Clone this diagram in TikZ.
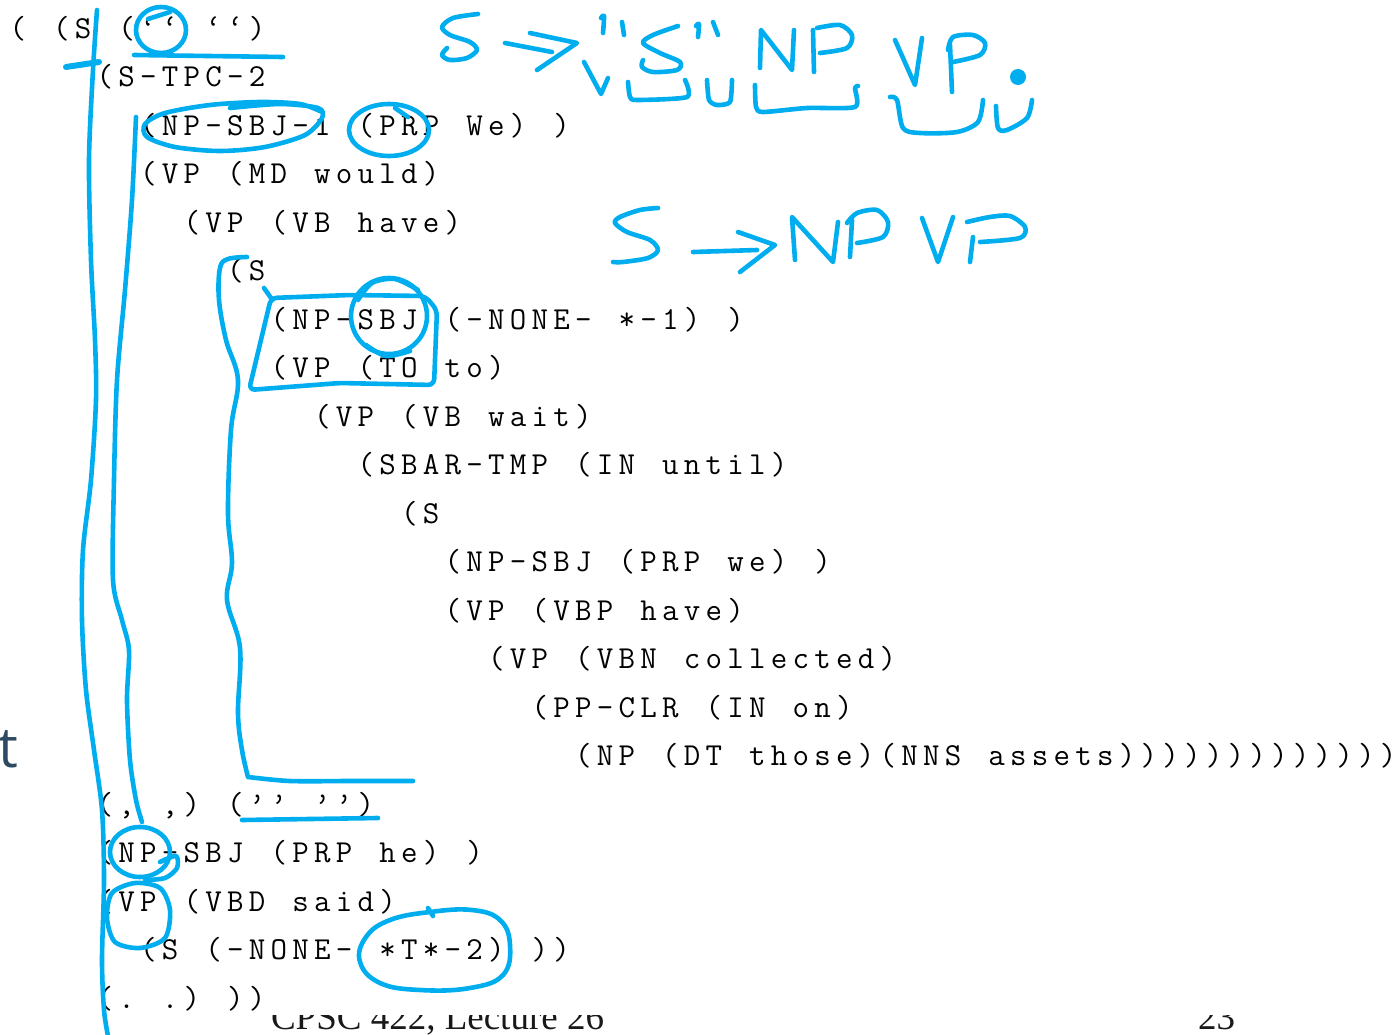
\documentclass[tikz,border=0pt]{standalone}
\usepackage{fontspec}
\newfontfamily\slidefont{Open Sans}
\newfontfamily\footfont{Liberation Serif}
\definecolor{ink}{RGB}{0,174,239}
\definecolor{slate}{RGB}{46,74,98}

% Set a string on a fixed character grid (one cell per character, spaces kept)
\ExplSyntaxOn
\dim_new:N \l_grid_cell_dim
\dim_set:Nn \l_grid_cell_dim {21.75pt}
\NewDocumentCommand\gridtext{m}
  {\str_map_inline:nn {#1} {\makebox[\l_grid_cell_dim][c]{##1}}}
\ExplSyntaxOff

\tikzset{
  treeline/.style={anchor=base west, inner sep=0pt, outer sep=0pt,
    font=\ttfamily\fontsize{32}{38}\selectfont},
  pen/.style={draw=ink, line width=4.6pt, line cap=round, line join=round},
  footer/.style={anchor=base west, inner sep=0pt, outer sep=0pt,
    font=\footfont\fontsize{37}{40}\selectfont, text=black!90},
}

\begin{document}
\begin{tikzpicture}[x=1pt, y=-1pt]
\useasboundingbox (0,0) rectangle (1398,1034);
\clip (0,0) rectangle (1398,1034);

% slide remnants behind the treebank listing
\node[anchor=base west, inner sep=0pt, text=slate,
      font=\slidefont\fontsize{56}{60}\selectfont] (tchar) at (-2,767) {t};
\begin{scope}
  \clip (0,1015) rectangle (1398,1034);
  \node[footer] (foot) at (271,1029) {CPSC 422, Lecture 26};
  \node[footer] (pgnum) at (1198,1029) {23};
\end{scope}

% bracketed parse tree
\node[treeline] (l01) at (7,38)      {\gridtext{( (S (‘‘ ‘‘)}};
\node[treeline] (l02) at (94,86.5)   {\gridtext{(S-TPC-2}};
\node[treeline] (l03) at (137.5,135) {\gridtext{(NP-SBJ-1 (PRP We) )}};
\node[treeline] (l04) at (137.5,183.5) {\gridtext{(VP (MD would)}};
\node[treeline] (l05) at (181,232)   {\gridtext{(VP (VB have)}};
\node[treeline] (l06) at (224.5,280.5) {\gridtext{(S}};
\node[treeline] (l07) at (268,329)   {\gridtext{(NP-SBJ (-NONE- *-1) )}};
\node[treeline] (l08) at (268,377.5) {\gridtext{(VP (TO to)}};
\node[treeline] (l09) at (311.5,426) {\gridtext{(VP (VB wait)}};
\node[treeline] (l10) at (355,474.5) {\gridtext{(SBAR-TMP (IN until)}};
\node[treeline] (l11) at (398.5,523) {\gridtext{(S}};
\node[treeline] (l12) at (442,571.5) {\gridtext{(NP-SBJ (PRP we) )}};
\node[treeline] (l13) at (442,620)   {\gridtext{(VP (VBP have)}};
\node[treeline] (l14) at (485.5,668.5) {\gridtext{(VP (VBN collected)}};
\node[treeline] (l15) at (529,717)   {\gridtext{(PP-CLR (IN on)}};
\node[treeline] (l16) at (572.5,765.5) {\gridtext{(NP (DT those)(NNS assets)))))))))))))}};
\node[treeline] (l17) at (94,814)    {\gridtext{(, ,) (’’ ’’)}};
\node[treeline] (l18) at (94,862.5)  {\gridtext{(NP-SBJ (PRP he) )}};
\node[treeline] (l19) at (94,911)    {\gridtext{(VP (VBD said)}};
\node[treeline] (l20) at (137.5,959.5) {\gridtext{(S (-NONE- *T*-2) ))}};
\node[treeline] (l21) at (94,1008)   {\gridtext{(. .) ))}};

% ---- pen annotations ----
% first quote pair
\draw[pen] (161,30) ellipse [x radius=25, y radius=23];
\draw[pen] (148,19) -- (170,12);
\draw[pen] (134,55) -- (283,57);
\draw[pen, line width=6pt] (66,67) -- (99,62);

% long vertical strokes on the left
\draw[pen] plot[smooth] coordinates {(97,10) (93,70) (89,160) (91,260) (95,340)
  (96,400) (91,480) (83,550) (82,620) (86,690) (94,750) (102,810) (104,880)
  (102,960) (104,1010) (108,1036)};
\draw[pen] plot[smooth] coordinates {(136,117) (132,200) (125,290) (117,380)
  (114,480) (113,580) (122,620) (129,650) (127,700) (130,760) (136,800) (142,822)};

% NP-SBJ-1 and PRP loops
\draw[pen] plot[smooth] coordinates {(230,108) (280,104) (318,108) (322,118)
  (305,135) (265,147) (220,151) (175,147) (147,137) (145,124) (165,113)
  (210,105) (260,102) (300,104) (322,112)};
\draw[pen] (389,130) ellipse [x radius=40, y radius=26];
\draw[pen] (395,108) -- (408,117);

% bracket around the embedded S
\draw[pen] plot[smooth, tension=0.6] coordinates {(247,257) (228,259) (220,268)
  (219,300) (226,340) (238,380) (231,430) (228,513) (232,563) (227,600)
  (240,648) (238,713) (242,750) (248,777)}
  plot[smooth] coordinates {(248,777) (290,781) (350,781) (413,781)};

% box around NP-SBJ / VP (TO
\draw[pen] (264,288) -- (271,298);
\draw[pen, rounded corners=6pt] (271,298) -- (350,295) -- (425,296) -- (437,310)
  -- (434,385) -- (340,383) -- (249,390) -- cycle;

% SBJ loop
\draw[pen] (389,316) ellipse [x radius=38, y radius=38];
\draw[pen] plot[smooth] coordinates {(358,300) (372,283) (395,279) (418,290)};
\draw[pen] plot[smooth] coordinates {(366,345) (386,356) (410,351)};

% closing quote pair
\draw[pen] (242,820) -- (378,818);

% NP / VP loops
\draw[pen] (140,852) ellipse [x radius=30, y radius=25];
\draw[pen] plot[smooth] coordinates {(160,862) (176,856) (177,868) (165,878) (145,880)};
\draw[pen] plot[smooth cycle] coordinates {(112,893) (135,883) (160,888) (170,910)
  (165,938) (140,948) (115,942) (107,918)};

% trace loop
\draw[pen] plot[smooth cycle, tension=0.7] coordinates {(430,912) (472,910)
  (500,920) (510,945) (503,975) (470,988) (420,990) (380,983) (360,962)
  (366,937) (390,920)};
\draw[pen] (428,908) -- (433,916);

% ---- rule:  S -> '' S '' NP VP . ----
\draw[pen] plot[smooth] coordinates {(478,14) (453,18) (442,27) (450,35) (470,42)
  (477,50) (467,58) (450,60) (442,55) (447,48)};
\draw[pen] (505,43) -- (552,52);
\draw[pen] (530,33) -- (577,43) -- (537,70);
\draw[pen] plot[smooth] coordinates {(601,18) (604,16) (603,33)};
\draw[pen] (622,22) -- (624,35);
\draw[pen] plot[smooth] coordinates {(678,26) (653,35) (643,43) (660,53) (680,62)
  (677,70) (653,72) (642,67) (643,60)};
\draw[pen] plot[smooth] coordinates {(696,26) (699,24) (698,37)};
\draw[pen] (713,22) -- (718,35);
\draw[pen] (760,68) -- (761,30) -- (792,70) -- (794,30);
\draw[pen] (813,30) -- (814,72);
\draw[pen] plot[smooth] coordinates {(817,28) (840,25) (852,35) (847,48) (820,53)};
\draw[pen] (895,40) -- (915,85) -- (922,38);
\draw[pen] (950,45) -- (952,92);
\draw[pen] plot[smooth] coordinates {(948,50) (953,37) (973,35) (985,43) (980,55) (953,62)};
\fill[ink] (1018,77) circle [radius=8];
% brackets under the rule
\draw[pen] (584,62) -- (601,94) -- (608,78);
\draw[pen] plot[smooth, tension=0.4] coordinates {(628,82) (630,97) (637,100) (687,97) (685,80)};
\draw[pen] plot[smooth, tension=0.4] coordinates {(707,80) (709,100) (717,105) (730,102) (732,80)};
\draw[pen] plot[smooth, tension=0.4] coordinates {(755,85) (756,107) (763,112) (807,108) (855,107) (855,88) (858,86)};
\draw[pen] plot[smooth, tension=0.5] coordinates {(890,97) (897,100) (903,128) (920,133) (957,132) (978,122) (983,100)};
\draw[pen] plot[smooth, tension=0.5] coordinates {(996,106) (998,128) (1007,130) (1027,118) (1032,100)};

% ---- rule:  S -> NP VP ----
\draw[pen] plot[smooth] coordinates {(658,208) (640,210) (620,217) (615,223)
  (627,232) (650,240) (658,250) (648,258) (623,262) (613,262)};
\draw[pen] (693,252) -- (757,250);
\draw[pen] (738,232) -- (775,245) -- (740,272);
\draw[pen] (795,260) -- (792,217) -- (833,262) -- (838,222);
\draw[pen] (852,220) -- (850,257);
\draw[pen] plot[smooth] coordinates {(847,223) (857,213) (877,210) (888,222) (883,237) (857,243)};
\draw[pen] (922,218) -- (938,262) -- (953,217);
\draw[pen] (973,237) -- (970,262);
\draw[pen] plot[smooth] coordinates {(967,222) (990,217) (1010,216) (1025,227) (1020,238) (980,242)};
\end{tikzpicture}
\end{document}
